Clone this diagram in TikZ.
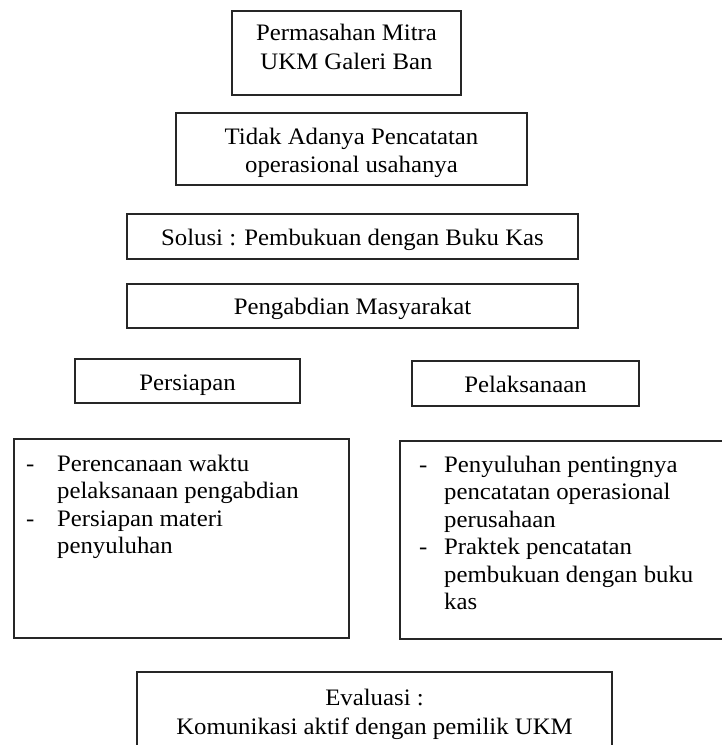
\documentclass[tikz,border=0pt]{standalone}
\usepackage{fontspec}
\setmainfont{Liberation Serif}[FakeStretch=1.05]
\begin{document}
\begin{tikzpicture}[x=1pt,y=-1pt,
  box/.style={draw=black!85, line width=1.2pt, inner sep=0pt, fill=none},
  txt/.style={inner sep=0pt, font=\fontsize{23.6}{28}\selectfont, text=black}]
\useasboundingbox (0,0) rectangle (722,745);
\clip (0,0) rectangle (722,745);
% boxes
\node[box, minimum width=229pt, minimum height=84pt] (b1) at (346.5,53) {};
\node[box, minimum width=351pt, minimum height=72pt] (b2) at (351.5,149) {};
\node[box, minimum width=451pt, minimum height=45pt] (b3) at (352.5,236.5) {};
\node[box, minimum width=451pt, minimum height=44pt] (b4) at (352.5,306) {};
\node[box, minimum width=225pt, minimum height=44pt] (b5) at (187.5,381) {};
\node[box, minimum width=227pt, minimum height=45pt] (b6) at (525.5,383.5) {};
\node[box, minimum width=335pt, minimum height=199pt] (b7) at (181.5,538.5) {};
\node[box, minimum width=340pt, minimum height=198pt] (b8) at (570,540) {};
\node[box, minimum width=475pt, minimum height=100pt] (b9) at (374.5,722) {};
% texts
\node[txt, anchor=base] (t1a) at (346.5,40) {Permasahan Mitra};
\node[txt, anchor=base] (t1b) at (346.5,69) {UKM Galeri Ban};
\node[txt, anchor=base] (t2a) at (351.5,144) {Tidak Adanya Pencatatan};
\node[txt, anchor=base] (t2b) at (351.5,172) {operasional usahanya};
\node[txt, anchor=base] (t3) at (352.5,245) {Solusi : Pembukuan dengan Buku Kas};
\node[txt, anchor=base] (t4) at (352.5,314) {Pengabdian Masyarakat};
\node[txt, anchor=base] (t5) at (187.5,390) {Persiapan};
\node[txt, anchor=base] (t6) at (525.5,392) {Pelaksanaan};
% left list
\node[txt, anchor=base west] (d7a) at (26,471) {-};
\node[txt, anchor=base west] (t7a) at (57,471) {Perencanaan waktu};
\node[txt, anchor=base west] (t7b) at (57,498.5) {pelaksanaan pengabdian};
\node[txt, anchor=base west] (d7b) at (26,526) {-};
\node[txt, anchor=base west] (t7c) at (57,526) {Persiapan materi};
\node[txt, anchor=base west] (t7d) at (57,553.5) {penyuluhan};
% right list
\node[txt, anchor=base west] (d8a) at (419,472) {-};
\node[txt, anchor=base west] (t8a) at (444,472) {Penyuluhan pentingnya};
\node[txt, anchor=base west] (t8b) at (444,499.5) {pencatatan operasional};
\node[txt, anchor=base west] (t8c) at (444,527) {perusahaan};
\node[txt, anchor=base west] (d8b) at (419,554.5) {-};
\node[txt, anchor=base west] (t8d) at (444,554.5) {Praktek pencatatan};
\node[txt, anchor=base west] (t8e) at (444,582) {pembukuan dengan buku};
\node[txt, anchor=base west] (t8f) at (444,609.5) {kas};
% evaluation
\node[txt, anchor=base] (t9a) at (374.5,705) {Evaluasi :};
\node[txt, anchor=base] (t9b) at (374.5,734) {Komunikasi aktif dengan pemilik UKM};
\end{tikzpicture}
\end{document}
